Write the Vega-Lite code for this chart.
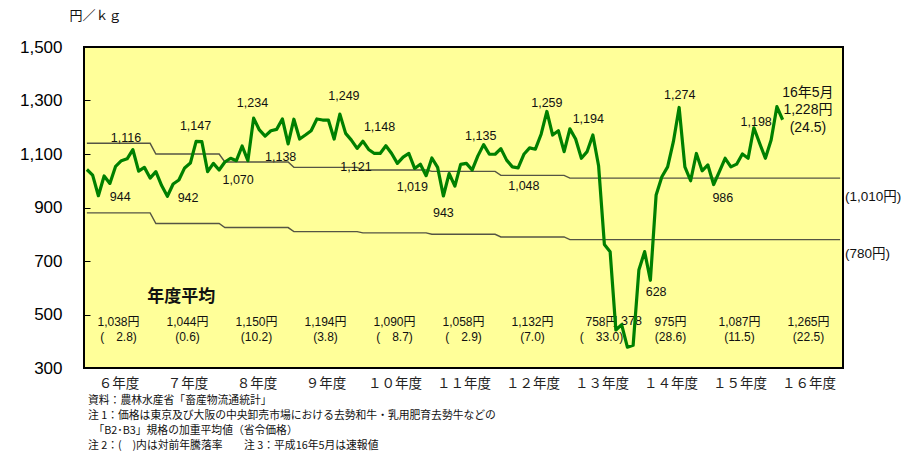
{
  "$schema": "https://vega.github.io/schema/vega-lite/v6.json",
  "width": 759,
  "height": 321,
  "autosize": "none",
  "padding": {"left": 84, "top": 47, "right": 67, "bottom": 85},
  "background": "white",
  "config": {
    "view": {"fill": "#FFFF99", "stroke": "#000000", "strokeWidth": 2},
    "font": "Liberation Sans, Noto Sans CJK JP"
  },
  "title": {
    "text": [
      "資料：農林水産省「畜産物流通統計」",
      "注 1：価格は東京及び大阪の中央卸売市場における去勢和牛・乳用肥育去勢牛などの",
      "\u200b　「B2･B3」規格の加重平均値（省令価格）",
      "注 2：(　)内は対前年騰落率　　注 3：平成16年5月は速報値"
    ],
    "orient": "bottom",
    "anchor": "start",
    "frame": "group",
    "offset": 5,
    "dx": 4,
    "font": "Noto Sans CJK JP",
    "fontSize": 10.8,
    "fontWeight": "normal",
    "lineHeight": 15,
    "color": "#111111"
  },
  "datasets": {
    "prices": [
      {"month": 0, "price": 1042}, {"month": 1, "price": 1021}, {"month": 2, "price": 944}, {"month": 3, "price": 1018},
      {"month": 4, "price": 990}, {"month": 5, "price": 1054}, {"month": 6, "price": 1075}, {"month": 7, "price": 1082},
      {"month": 8, "price": 1116}, {"month": 9, "price": 1036}, {"month": 10, "price": 1050}, {"month": 11, "price": 1010},
      {"month": 12, "price": 1034}, {"month": 13, "price": 982}, {"month": 14, "price": 942}, {"month": 15, "price": 988},
      {"month": 16, "price": 1003}, {"month": 17, "price": 1048}, {"month": 18, "price": 1066}, {"month": 19, "price": 1147},
      {"month": 20, "price": 1146}, {"month": 21, "price": 1034}, {"month": 22, "price": 1065}, {"month": 23, "price": 1040},
      {"month": 24, "price": 1070}, {"month": 25, "price": 1084}, {"month": 26, "price": 1075}, {"month": 27, "price": 1130},
      {"month": 28, "price": 1075}, {"month": 29, "price": 1234}, {"month": 30, "price": 1190}, {"month": 31, "price": 1167},
      {"month": 32, "price": 1187}, {"month": 33, "price": 1192}, {"month": 34, "price": 1231}, {"month": 35, "price": 1138},
      {"month": 36, "price": 1230}, {"month": 37, "price": 1156}, {"month": 38, "price": 1171}, {"month": 39, "price": 1187},
      {"month": 40, "price": 1231}, {"month": 41, "price": 1227}, {"month": 42, "price": 1227}, {"month": 43, "price": 1156},
      {"month": 44, "price": 1249}, {"month": 45, "price": 1177}, {"month": 46, "price": 1152}, {"month": 47, "price": 1121},
      {"month": 48, "price": 1148}, {"month": 49, "price": 1117}, {"month": 50, "price": 1102}, {"month": 51, "price": 1102},
      {"month": 52, "price": 1131}, {"month": 53, "price": 1102}, {"month": 54, "price": 1065}, {"month": 55, "price": 1088},
      {"month": 56, "price": 1102}, {"month": 57, "price": 1046}, {"month": 58, "price": 1062}, {"month": 59, "price": 1019},
      {"month": 60, "price": 1085}, {"month": 61, "price": 1050}, {"month": 62, "price": 943}, {"month": 63, "price": 1027},
      {"month": 64, "price": 980}, {"month": 65, "price": 1061}, {"month": 66, "price": 1065}, {"month": 67, "price": 1040},
      {"month": 68, "price": 1093}, {"month": 69, "price": 1135}, {"month": 70, "price": 1099}, {"month": 71, "price": 1099},
      {"month": 72, "price": 1120}, {"month": 73, "price": 1077}, {"month": 74, "price": 1052}, {"month": 75, "price": 1048},
      {"month": 76, "price": 1099}, {"month": 77, "price": 1123}, {"month": 78, "price": 1118}, {"month": 79, "price": 1174},
      {"month": 80, "price": 1259}, {"month": 81, "price": 1171}, {"month": 82, "price": 1187}, {"month": 83, "price": 1109},
      {"month": 84, "price": 1194}, {"month": 85, "price": 1156}, {"month": 86, "price": 1084}, {"month": 87, "price": 1109},
      {"month": 88, "price": 1171}, {"month": 89, "price": 1055}, {"month": 90, "price": 762}, {"month": 91, "price": 735},
      {"month": 92, "price": 442}, {"month": 93, "price": 462}, {"month": 94, "price": 378}, {"month": 95, "price": 385},
      {"month": 96, "price": 666}, {"month": 97, "price": 735}, {"month": 98, "price": 628}, {"month": 99, "price": 947},
      {"month": 100, "price": 1015}, {"month": 101, "price": 1052}, {"month": 102, "price": 1146}, {"month": 103, "price": 1274},
      {"month": 104, "price": 1052}, {"month": 105, "price": 1000}, {"month": 106, "price": 1102}, {"month": 107, "price": 1037},
      {"month": 108, "price": 1059}, {"month": 109, "price": 986}, {"month": 110, "price": 1034}, {"month": 111, "price": 1084},
      {"month": 112, "price": 1052}, {"month": 113, "price": 1062}, {"month": 114, "price": 1100}, {"month": 115, "price": 1084},
      {"month": 116, "price": 1198}, {"month": 117, "price": 1140}, {"month": 118, "price": 1084}, {"month": 119, "price": 1152},
      {"month": 120, "price": 1277}, {"month": 121, "price": 1228}
    ],
    "bands": [
      {"month": 0, "price": 1140, "band": "upper"}, {"month": 11, "price": 1140, "band": "upper"},
      {"month": 12, "price": 1100, "band": "upper"}, {"month": 23, "price": 1100, "band": "upper"},
      {"month": 24, "price": 1070, "band": "upper"}, {"month": 35, "price": 1070, "band": "upper"},
      {"month": 36, "price": 1050, "band": "upper"}, {"month": 47, "price": 1050, "band": "upper"},
      {"month": 48, "price": 1040, "band": "upper"}, {"month": 59, "price": 1040, "band": "upper"},
      {"month": 60, "price": 1035, "band": "upper"}, {"month": 71, "price": 1035, "band": "upper"},
      {"month": 72, "price": 1020, "band": "upper"}, {"month": 83, "price": 1020, "band": "upper"},
      {"month": 84, "price": 1010, "band": "upper"}, {"month": 131, "price": 1010, "band": "upper"},
      {"month": 0, "price": 880, "band": "lower"}, {"month": 11, "price": 880, "band": "lower"},
      {"month": 12, "price": 840, "band": "lower"}, {"month": 23, "price": 840, "band": "lower"},
      {"month": 24, "price": 825, "band": "lower"}, {"month": 35, "price": 825, "band": "lower"},
      {"month": 36, "price": 810, "band": "lower"}, {"month": 47, "price": 810, "band": "lower"},
      {"month": 48, "price": 805, "band": "lower"}, {"month": 59, "price": 805, "band": "lower"},
      {"month": 60, "price": 800, "band": "lower"}, {"month": 71, "price": 800, "band": "lower"},
      {"month": 72, "price": 790, "band": "lower"}, {"month": 83, "price": 790, "band": "lower"},
      {"month": 84, "price": 780, "band": "lower"}, {"month": 131, "price": 780, "band": "lower"}
    ],
    "boundaries": [
      {"month": 11.5}, {"month": 23.5}, {"month": 35.5}, {"month": 47.5}, {"month": 59.5},
      {"month": 71.5}, {"month": 83.5}, {"month": 95.5}, {"month": 107.5}, {"month": 119.5}
    ],
    "averages": [
      {"month": 5.5, "price": 472, "label": "1,038円\n(　2.8)"},
      {"month": 17.5, "price": 472, "label": "1,044円\n(0.6)"},
      {"month": 29.5, "price": 472, "label": "1,150円\n(10.2)"},
      {"month": 41.5, "price": 472, "label": "1,194円\n(3.8)"},
      {"month": 53.5, "price": 472, "label": "1,090円\n(　8.7)"},
      {"month": 65.5, "price": 472, "label": "1,058円\n(　2.9)"},
      {"month": 77.5, "price": 472, "label": "1,132円\n(7.0)"},
      {"month": 89.5, "price": 472, "label": "758円\n(　33.0)"},
      {"month": 101.5, "price": 472, "label": "975円\n(28.6)"},
      {"month": 113.5, "price": 472, "label": "1,087円\n(11.5)"},
      {"month": 125.5, "price": 472, "label": "1,265円\n(22.5)"}
    ],
    "extrema": [
      {"month": 6.8, "price": 1159, "label": "1,116"},
      {"month": 5.8, "price": 940, "label": "944"},
      {"month": 17.6, "price": 934, "label": "942"},
      {"month": 18.9, "price": 1205, "label": "1,147"},
      {"month": 28.8, "price": 1292, "label": "1,234"},
      {"month": 26.3, "price": 1003, "label": "1,070"},
      {"month": 33.7, "price": 1090, "label": "1,138"},
      {"month": 44.7, "price": 1317, "label": "1,249"},
      {"month": 50.9, "price": 1200, "label": "1,148"},
      {"month": 46.8, "price": 1050, "label": "1,121"},
      {"month": 56.6, "price": 975, "label": "1,019"},
      {"month": 62.0, "price": 878, "label": "943"},
      {"month": 68.5, "price": 1168, "label": "1,135"},
      {"month": 76.0, "price": 981, "label": "1,048"},
      {"month": 80.0, "price": 1289, "label": "1,259"},
      {"month": 87.2, "price": 1231, "label": "1,194"},
      {"month": 99.0, "price": 583, "label": "628"},
      {"month": 94.7, "price": 476, "label": "378"},
      {"month": 103.1, "price": 1320, "label": "1,274"},
      {"month": 110.6, "price": 934, "label": "986"},
      {"month": 116.4, "price": 1221, "label": "1,198"}
    ],
    "latest": [
      {"month": 125.4, "price": 1329, "label": "16年5月\n1,228円\n(24.5)"}
    ],
    "heading": [
      {"month": 16.4, "price": 565, "label": "年度平均"}
    ],
    "bandLabels": [
      {"month": 131.5, "price": 939, "label": "(1,010円)"},
      {"month": 131.5, "price": 726, "label": "(780円)"}
    ]
  },
  "encoding": {
    "x": {
      "field": "month",
      "type": "quantitative",
      "scale": {"domain": [-0.5, 131.5], "nice": false, "zero": false},
      "axis": {
        "values": [5.5, 17.5, 29.5, 41.5, 53.5, 65.5, 77.5, 89.5, 101.5, 113.5, 125.5],
        "labelExpr": "['６年度','７年度','８年度','９年度','１０年度','１１年度','１２年度','１３年度','１４年度','１５年度','１６年度'][floor(datum.value / 12)]",
        "ticks": false,
        "domain": false,
        "grid": false,
        "title": null,
        "labelFont": "Noto Sans CJK JP",
        "labelFontSize": 13.5,
        "labelColor": "#222222",
        "labelPadding": 8,
        "labelOverlap": false,
        "labelFlush": false
      }
    },
    "y": {
      "field": "price",
      "type": "quantitative",
      "scale": {"domain": [300, 1500], "nice": false, "zero": false},
      "axis": {
        "values": [300, 500, 700, 900, 1100, 1300, 1500],
        "format": ",.0f",
        "title": "円／ｋｇ",
        "titleAngle": 0,
        "titleX": 5,
        "titleY": -32,
        "titleAlign": "center",
        "titleBaseline": "middle",
        "titleFont": "Noto Sans CJK JP",
        "titleFontSize": 13,
        "titleFontWeight": "normal",
        "titleColor": "#111111",
        "labelFont": "Liberation Sans",
        "labelFontSize": 17,
        "labelColor": "#000000",
        "offset": -6,
        "tickSize": 6,
        "tickColor": "#000000",
        "tickWidth": 1,
        "labelPadding": 22,
        "domain": false,
        "grid": false,
        "zindex": 1
      }
    }
  },
  "layer": [
    {
      "data": {"name": "boundaries"},
      "mark": {"type": "rule", "color": "#000000", "strokeWidth": 2.5, "strokeDash": [3, 2.5]},
      "encoding": {
        "y": {"datum": 300},
        "y2": {"datum": 1500}
      }
    },
    {
      "data": {"name": "bands"},
      "mark": {"type": "line", "color": "#555544", "strokeWidth": 1.4},
      "encoding": {
        "detail": {"field": "band", "type": "nominal"}
      }
    },
    {
      "data": {"name": "averages"},
      "mark": {"type": "text", "fontSize": 12, "lineBreak": "\n", "lineHeight": 15, "color": "#111111", "font": "Liberation Sans, Noto Sans CJK JP"},
      "encoding": {
        "text": {"field": "label"}
      }
    },
    {
      "data": {"name": "extrema"},
      "mark": {"type": "text", "fontSize": 12.5, "color": "#111111", "font": "Liberation Sans"},
      "encoding": {
        "text": {"field": "label"}
      }
    },
    {
      "data": {"name": "latest"},
      "mark": {"type": "text", "fontSize": 14, "lineBreak": "\n", "lineHeight": 17.5, "color": "#111111", "font": "Liberation Sans, Noto Sans CJK JP"},
      "encoding": {
        "text": {"field": "label"}
      }
    },
    {
      "data": {"name": "heading"},
      "mark": {"type": "text", "fontSize": 17, "fontWeight": "bold", "color": "#111111", "font": "Noto Sans CJK JP"},
      "encoding": {
        "text": {"field": "label"}
      }
    },
    {
      "data": {"name": "bandLabels"},
      "mark": {"type": "text", "fontSize": 13.5, "align": "left", "dx": 2, "color": "#111111", "font": "Liberation Sans, Noto Sans CJK JP"},
      "encoding": {
        "text": {"field": "label"}
      }
    },
    {
      "data": {"name": "prices"},
      "mark": {"type": "line", "color": "#008000", "strokeWidth": 3.2, "strokeJoin": "round"}
    }
  ]
}
